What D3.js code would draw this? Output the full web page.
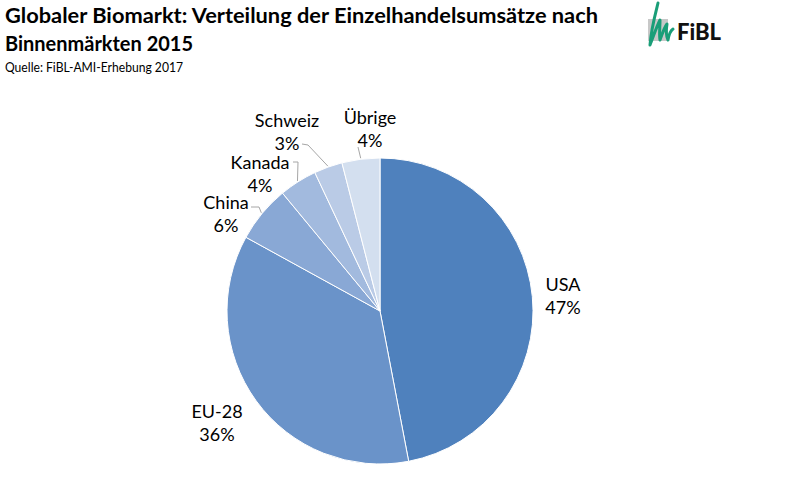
<!DOCTYPE html>
<html><head><meta charset="utf-8">
<script src="https://cdn.jsdelivr.net/npm/d3@7"></script>
<style>body{margin:0;background:#fff}svg{display:block}</style>
</head><body>
<svg id="c" width="800" height="503"></svg>
<script>
const categories = ["USA", "EU-28", "China", "Kanada", "Schweiz", "Übrige"];
const shares = [47, 36, 6, 4, 3, 4];
const colors = ["#4F81BD", "#6A93C9", "#89A8D5", "#A2BADE", "#BACBE6", "#D3DFEF"];
const titleLines = ["Globaler Biomarkt: Verteilung der Einzelhandelsumsätze nach", "Binnenmärkten 2015"];
const subtitle = "Quelle: FiBL-AMI-Erhebung 2017";
// label layout (offsets from pie centre) and leader-line start points
const labelPos = [[183,-15],[-163,112],[-154,-97],[-120,-137],[-93,-179],[-10,-182]];
const leaderStart = [null,null,[[-129,-104],[-121,-104]],[[-87,-149],[-82,-149]],[[-78,-167],[-72,-166]],[[-22,-164]]];

const svg = d3.select("#c");
const font = "Lato, 'Open Sans', sans-serif";
const cx = 380, cy = 311, R = 153;

svg.append("text").attr("x",5).attr("y",23).attr("font-family",font).attr("font-weight","bold")
  .attr("font-size",21).attr("fill","#000").attr("textLength",593).attr("lengthAdjust","spacingAndGlyphs").text(titleLines[0]);
svg.append("text").attr("x",5).attr("y",51).attr("font-family",font).attr("font-weight","bold")
  .attr("font-size",21).attr("fill","#000").attr("textLength",188).attr("lengthAdjust","spacingAndGlyphs").text(titleLines[1]);
svg.append("text").attr("x",5).attr("y",72).attr("font-family",font)
  .attr("font-size",12.5).attr("fill","#000").attr("textLength",178).attr("lengthAdjust","spacingAndGlyphs").text(subtitle);

// logo
const logo = svg.append("g");
logo.append("rect").attr("x",648).attr("y",19).attr("width",20).attr("height",22).attr("fill","#c8c8c8");
logo.append("path").attr("d","M658,3 C655,15 651,30 650,45 C654,35 656,28 660,20 C660,28 659,34 660,40 C663,32 664,28 667,24 C666,30 666,36 668,40 C669,34 670,31 673,29")
  .attr("fill","none").attr("stroke","#1a9e78").attr("stroke-width",3).attr("stroke-linejoin","round").attr("stroke-linecap","round");
logo.append("text").attr("x",677).attr("y",40).attr("font-family",font).attr("font-weight","900")
  .attr("font-size",22).attr("fill","#111").text("FiBL");

const data = categories.map((c,i)=>({name:c, value:shares[i], color:colors[i], i}));
const pie = d3.pie().value(d=>d.value).sort(null);
const arcs = pie(data);
const arc = d3.arc().innerRadius(0).outerRadius(R);
const g = svg.append("g").attr("transform",`translate(${cx},${cy})`);
g.selectAll("path.s").data(arcs).join("path").attr("class","s")
  .attr("d",arc).attr("fill",d=>d.data.color).attr("stroke","#fff").attr("stroke-width",1);

// leader lines
arcs.forEach((a,i)=>{
  if(!leaderStart[i]) return;
  const m = (a.startAngle+a.endAngle)/2;
  const end = [Math.sin(m)*(R+1), -Math.cos(m)*(R+1)];
  const pts = leaderStart[i].concat([end]);
  g.append("path").attr("d",d3.line()(pts)).attr("fill","none").attr("stroke","#A6A6A6").attr("stroke-width",1);
});

// labels
arcs.forEach((a,i)=>{
  const [dx,dy] = labelPos[i];
  const t = g.append("text").attr("text-anchor","middle").attr("font-family",font)
    .attr("font-size",18).attr("fill","#000");
  t.append("tspan").attr("x",dx).attr("y",dy-5).text(a.data.name);
  t.append("tspan").attr("x",dx).attr("y",dy+18).text(Math.round(a.data.value)+"%");
});
</script>
</body></html>
